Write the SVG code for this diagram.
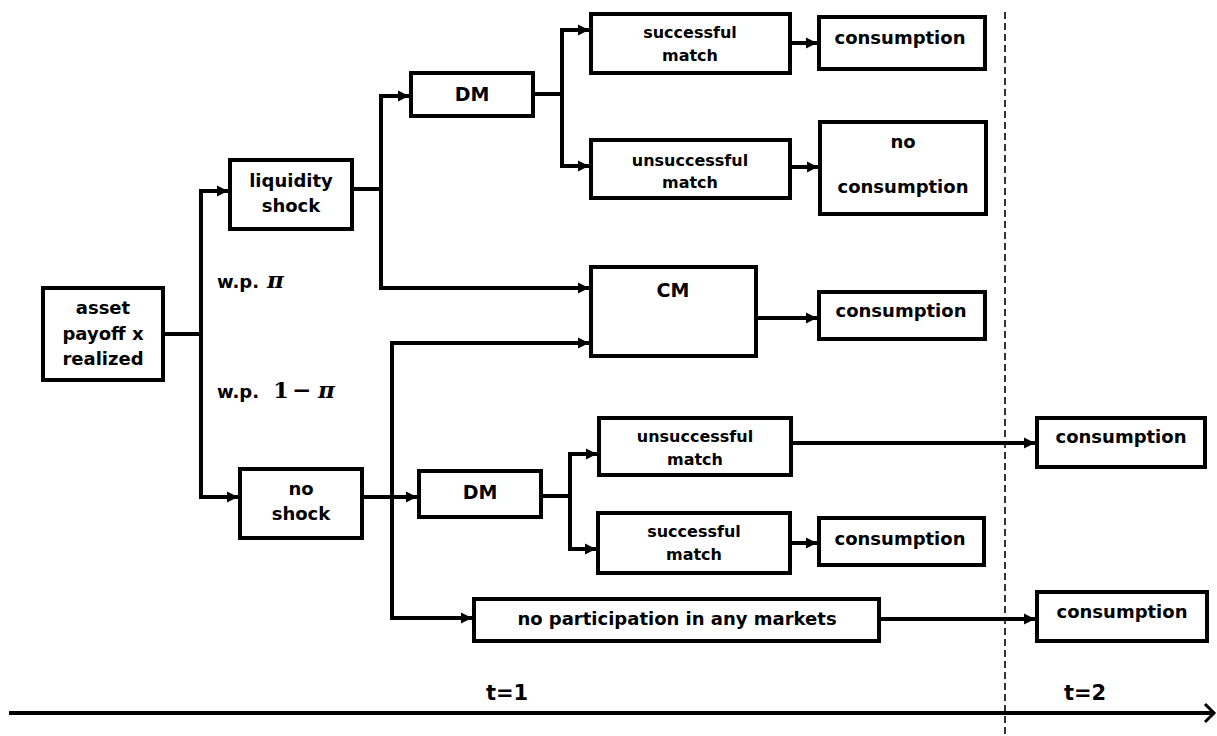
<svg xmlns="http://www.w3.org/2000/svg" width="1217" height="736" viewBox="0 0 1217 736">
<style>
.box{fill:#fff;stroke:#000;stroke-width:4}
.t{font-family:"DejaVu Sans",Verdana,sans-serif;font-weight:bold;font-size:18px;fill:#000;text-anchor:middle}
.s{font-size:16px}
.big{font-size:19px}
.c{fill:none;stroke:#000;stroke-width:4;stroke-linejoin:miter}
.a{marker-end:url(#ah)}
.m{font-family:"DejaVu Serif","Liberation Serif",serif;font-style:italic;font-weight:bold;font-size:23px;fill:#000}
.mr{font-family:"DejaVu Serif","Liberation Serif",serif;font-weight:bold;font-size:23px;fill:#000}
</style>
<defs>
<marker id="ah" viewBox="0 0 10 10" refX="10" refY="5" markerWidth="11" markerHeight="12" markerUnits="userSpaceOnUse" orient="auto">
<path d="M0,0 L10,5 L0,10 z" fill="#000"/>
</marker>
</defs>
<rect width="1217" height="736" fill="#fff"/>
<g id="timeline">
<line x1="1005" y1="12" x2="1005" y2="736" stroke="#000" stroke-width="1.6" stroke-dasharray="7 4"/>
<path d="M9,713 H1214" fill="none" stroke="#000" stroke-width="4"/>
<path d="M1205,704 L1214,713 L1205,722" fill="none" stroke="#000" stroke-width="3"/>
<text class="t" x="507" y="700" style="font-size:21px">t=1</text>
<text class="t" x="1085" y="700" style="font-size:21px">t=2</text>
</g>
<g id="connectors">
<path class="c" d="M165,334 H201"/>
<path class="c a" d="M201,334 V191 H228"/>
<path class="c a" d="M201,334 V497 H238"/>
<path class="c" d="M354,189 H381"/>
<path class="c a" d="M381,189 V96 H409"/>
<path class="c a" d="M381,189 V288 H589"/>
<path class="c" d="M535,94 H562"/>
<path class="c a" d="M562,94 V30 H589"/>
<path class="c a" d="M562,94 V166 H589"/>
<path class="c a" d="M792,43 H817"/>
<path class="c a" d="M792,167 H818"/>
<path class="c a" d="M758,318 H817"/>
<path class="c a" d="M364,497 H417"/>
<path class="c a" d="M392,497 V343 H589"/>
<path class="c a" d="M392,497 V618 H472"/>
<path class="c" d="M543,496 H570"/>
<path class="c a" d="M570,496 V454 H597"/>
<path class="c a" d="M570,496 V549 H596"/>
<path class="c a" d="M793,443 H1035"/>
<path class="c a" d="M792,543 H817"/>
<path class="c a" d="M881,619 H1035"/>
</g>
<g id="labels">
<text class="t" x="217" y="288" style="text-anchor:start">w.p.</text>
<text class="m" x="267" y="288">π</text>
<text class="t" x="217" y="398" style="text-anchor:start">w.p.</text>
<text class="mr" x="273" y="398">1</text>
<text class="mr" x="292" y="398">−</text>
<text class="m" x="318" y="398">π</text>
</g>
<g id="asset"><rect class="box" x="43" y="288" width="120" height="92"/>
<text class="t" x="103" y="314">asset</text><text class="t" x="103" y="340">payoff x</text><text class="t" x="103" y="365">realized</text></g>
<g id="liquidity"><rect class="box" x="230" y="160" width="122" height="69"/>
<text class="t" x="291" y="187">liquidity</text><text class="t" x="291" y="212">shock</text></g>
<g id="noshock"><rect class="box" x="240" y="469" width="122" height="69"/>
<text class="t" x="301" y="495">no</text><text class="t" x="301" y="520">shock</text></g>
<g id="dm1"><rect class="box" x="411" y="73" width="122" height="43"/>
<text class="t big" x="472" y="101">DM</text></g>
<g id="succ1"><rect class="box" x="591" y="14" width="199" height="59"/>
<text class="t s" x="690" y="38">successful</text><text class="t s" x="690" y="61">match</text></g>
<g id="unsucc1"><rect class="box" x="591" y="140" width="199" height="58"/>
<text class="t s" x="690" y="166">unsuccessful</text><text class="t s" x="690" y="188">match</text></g>
<g id="cons1"><rect class="box" x="819" y="17" width="166" height="52"/>
<text class="t" x="900" y="44">consumption</text></g>
<g id="nocons"><rect class="box" x="820" y="122" width="166" height="92"/>
<text class="t" x="903" y="148">no</text><text class="t" x="903" y="193">consumption</text></g>
<g id="cm"><rect class="box" x="591" y="267" width="165" height="89"/>
<text class="t big" x="673" y="297">CM</text></g>
<g id="cons2"><rect class="box" x="819" y="292" width="166" height="47"/>
<text class="t" x="901" y="317">consumption</text></g>
<g id="dm2"><rect class="box" x="419" y="471" width="122" height="46"/>
<text class="t big" x="480" y="499">DM</text></g>
<g id="unsucc2"><rect class="box" x="599" y="418" width="192" height="57"/>
<text class="t s" x="695" y="442">unsuccessful</text><text class="t s" x="695" y="465">match</text></g>
<g id="succ2"><rect class="box" x="598" y="513" width="192" height="60"/>
<text class="t s" x="694" y="537">successful</text><text class="t s" x="694" y="560">match</text></g>
<g id="cons3"><rect class="box" x="819" y="518" width="165" height="47"/>
<text class="t" x="900" y="545">consumption</text></g>
<g id="nopart"><rect class="box" x="474" y="599" width="405" height="42"/>
<text class="t" x="677" y="625">no participation in any markets</text></g>
<g id="consR1"><rect class="box" x="1037" y="418" width="168" height="49"/>
<text class="t" x="1121" y="443">consumption</text></g>
<g id="consR2"><rect class="box" x="1037" y="592" width="170" height="49"/>
<text class="t" x="1122" y="618">consumption</text></g>
</svg>
